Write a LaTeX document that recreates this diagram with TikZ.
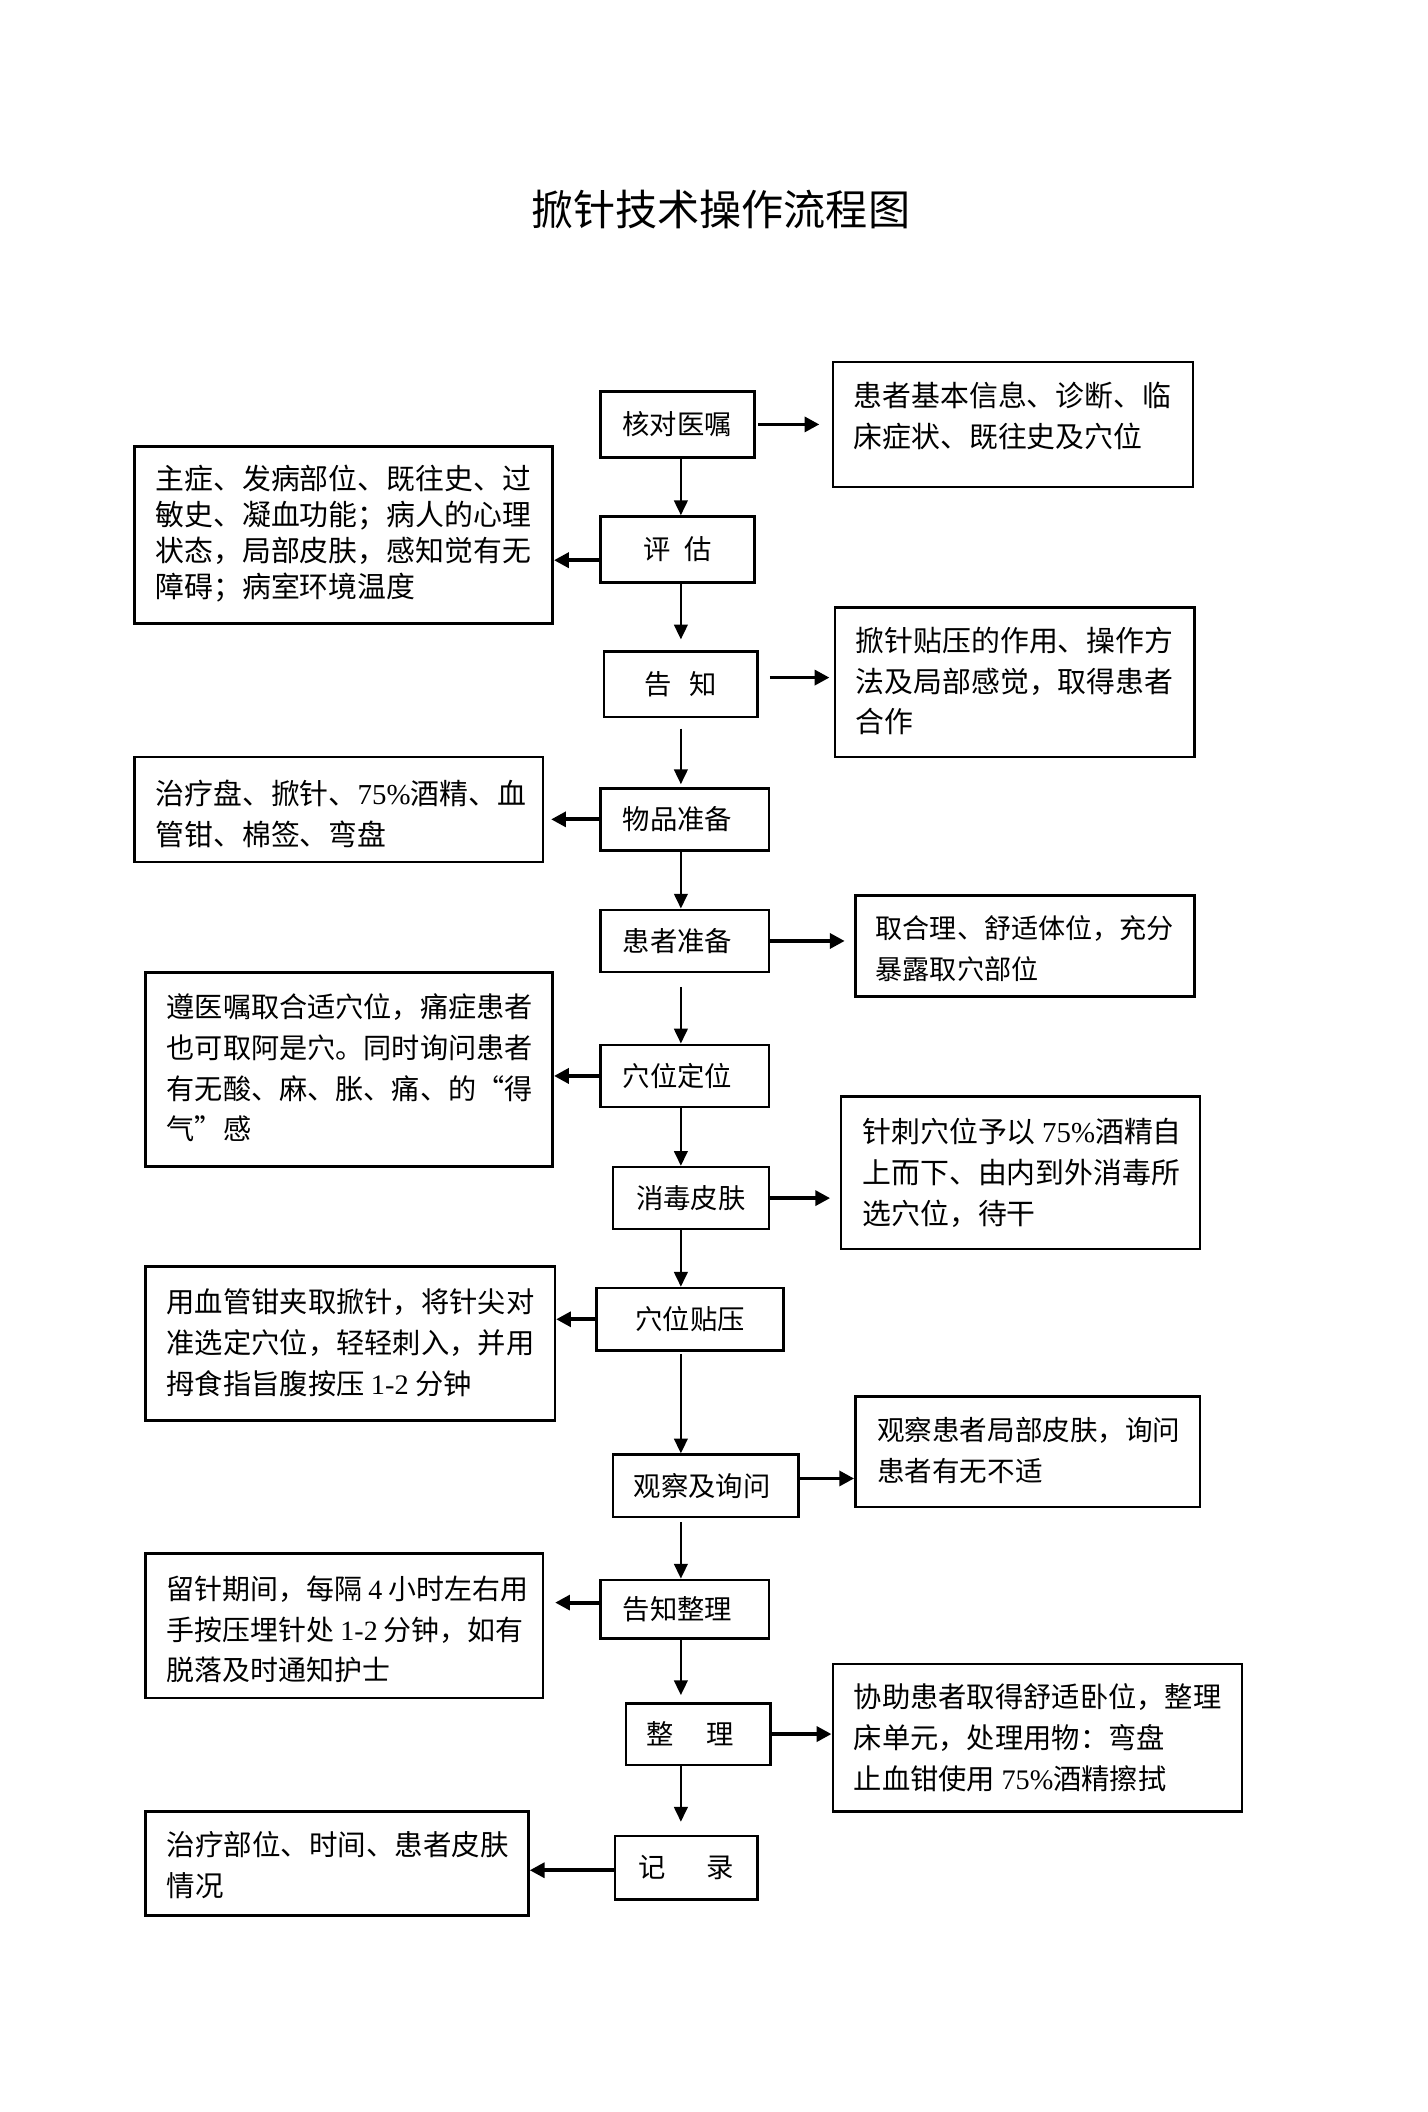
\documentclass[tikz,border=0pt]{standalone}
\usepackage{fontspec}
\newfontfamily\cjk{Noto Sans CJK SC}
\newfontfamily\lat{Liberation Serif}
\usetikzlibrary{arrows.meta,fit}
\newcommand\tstr{\rule{0pt}{1em}}
\tikzset{
  mbox/.style 2 args={draw, line width=1.1pt, inner sep=0pt, minimum width=#1*0.02cm, minimum height=#2*0.02cm, font=\cjk\fontsize{11.55pt}{14pt}\selectfont},
  sbox/.style={draw, line width=1.1pt, inner sep=0pt},
  stext/.style={anchor=north west, inner sep=0pt, align=left, font=\cjk\fontsize{#1}{17.24pt}\selectfont},
  stext/.default=12.2pt,
  stextb/.style={anchor=north west, inner sep=0pt, align=left, font=\cjk\fontsize{12.2pt}{15.25pt}\selectfont},
  varrow/.style={line width=1.1pt, -{Triangle[length=0.22cm,width=0.2cm]}},
  harrow/.style={line width=1.6pt, -{Triangle[length=0.22cm,width=0.22cm]}},
}
\begin{document}
\begin{tikzpicture}[x=0.02cm,y=-0.02cm]
\fill[white] (0,0) rectangle (1060,1568);
\useasboundingbox (0,0) rectangle (1060,1568);

\node[font=\cjk\fontsize{17.8pt}{20pt}\selectfont] (title) at (535,155.5) {掀针技术操作流程图};

\coordinate (spine) at (505.5,0);

% main flow boxes
\node[mbox={114.3}{48.8}] (m1) at (502.85,315.1) {核对医嘱};
\node[mbox={114.3}{48.8}] (m2) at (502.85,407.9) {评\hspace{0.5em}估};
\node[mbox={114.2}{48.7}] (m3) at (505.5,508.05) {告\hspace{0.65em}知};
\node[mbox={125.1}{46.2}] (m4) at (508.25,608.3) {物品准备\hspace*{0.21cm}};
\node[mbox={125.1}{46.2}] (m5) at (508.25,698.6) {患者准备\hspace*{0.21cm}};
\node[mbox={125.1}{46.2}] (m6) at (508.25,798.8) {穴位定位\hspace*{0.21cm}};
\node[mbox={115.8}{46}] (m7) at (512.9,889.5) {消毒皮肤};
\node[mbox={138.8}{46.3}] (m8) at (512.3,979.45) {穴位贴压};
\node[mbox={137.6}{46.3}] (m9) at (523.8,1103.15) {观察及询问\hspace*{0.1cm}};
\node[mbox={125.1}{43.6}] (m10) at (508.25,1194.8) {告知整理\hspace*{0.21cm}};
\node[mbox={107.2}{45.8}] (m11) at (518.3,1287.4) {整\hspace{1.2em}理\hspace*{0.24cm}};
\node[mbox={106.1}{47}] (m12) at (509.55,1386.5) {记\hspace{1.5em}录};

% side boxes
\node[sbox, fit={(618.3,268.9) (885.6,361.7)}] (s1) {};
\node[sbox, fit={(100,331.6) (410.3,462.7)}] (s2) {};
\node[sbox, fit={(619.8,450.8) (886.6,562.1)}] (s3) {};
\node[sbox, fit={(100,562.1) (403.2,640.1)}] (s4) {};
\node[sbox, fit={(635.1,664.8) (886.6,739.8)}] (s5) {};
\node[sbox, fit={(108.2,722) (410.3,866)}] (s6) {};
\node[sbox, fit={(624.3,814) (891,927.4)}] (s7) {};
\node[sbox, fit={(108.2,940.2) (411.9,1054.8)}] (s8) {};
\node[sbox, fit={(635.1,1036.7) (891,1118.8)}] (s9) {};
\node[sbox, fit={(108.2,1153.5) (403.2,1260.6)}] (s10) {};
\node[sbox, fit={(618.3,1235.4) (922,1344.8)}] (s11) {};
\node[sbox, fit={(108.2,1344.8) (392.3,1422)}] (s12) {};

% side texts
\node[stext] (t1) at (633.5,280) {\tstr 患者基本信息、诊断、临\\床症状、既往史及穴位};
\node[stextb] (t2) at (115.2,341.6) {\tstr 主症、发病部位、既往史、过\\敏史、凝血功能；病人的心理\\状态，局部皮肤，感知觉有无\\障碍；病室环境温度};
\node[stext] (t3) at (635,461.7) {\tstr 掀针贴压的作用、操作方\\法及局部感觉，取得患者\\合作};
\node[stext] (t4) at (115.2,575.6) {\tstr 治疗盘、掀针、{\lat 75\%}酒精、血\\管钳、棉签、弯盘};
\node[stext=11.45pt] (t5) at (649.8,676.5) {\tstr 取合理、舒适体位，充分\\暴露取穴部位};
\node[stext=11.9pt] (t6) at (123.4,734.2) {\tstr 遵医嘱取合适穴位，痛症患者\\也可取阿是穴。同时询问患者\\有无酸、麻、胀、痛、的“得\\气”感};
\node[stext] (t7) at (640,826.7) {\tstr 针刺穴位予以 {\lat 75\%}酒精自\\上而下、由内到外消毒所\\选穴位，待干};
\node[stext=11.95pt] (t8) at (123.4,953.2) {\tstr 用血管钳夹取掀针，将针尖对\\准选定穴位，轻轻刺入，并用\\拇食指旨腹按压 {\lat 1-2} 分钟};
\node[stext=11.65pt] (t9) at (650.9,1048.8) {\tstr 观察患者局部皮肤，询问\\患者有无不适};
\node[stext=11.8pt] (t10) at (123.4,1166.2) {\tstr 留针期间，每隔 {\lat 4} 小时左右用\\手按压埋针处 {\lat 1-2} 分钟，如有\\脱落及时通知护士};
\node[stext=11.95pt] (t11) at (633.5,1246.4) {\tstr 协助患者取得舒适卧位，整理\\床单元，处理用物：弯盘\\止血钳使用 {\lat 75\%}酒精擦拭};
\node[stext=12.05pt] (t12) at (123.4,1356.3) {\tstr 治疗部位、时间、患者皮肤\\情况};

% vertical arrows
\draw[varrow] (m1.south -| spine) -- (m2.north -| spine);
\draw[varrow, shorten >=0.16cm] (m2.south -| spine) -- (m3.north -| spine);
\draw[varrow, shorten <=0.15cm, shorten >=0.04cm] (m3.south -| spine) -- (m4.north -| spine);
\draw[varrow] (m4.south -| spine) -- (m5.north -| spine);
\draw[varrow, shorten <=0.2cm] (m5.south -| spine) -- (m6.north -| spine);
\draw[varrow] (m6.south -| spine) -- (m7.north -| spine);
\draw[varrow] (m7.south -| spine) -- (m8.north -| spine);
\draw[varrow, shorten <=0.04cm] (m8.south -| spine) -- (m9.north -| spine);
\draw[varrow, shorten <=0.06cm] (m9.south -| spine) -- (m10.north -| spine);
\draw[varrow, shorten >=0.1cm] (m10.south -| spine) -- (m11.north -| spine);
\draw[varrow, shorten >=0.19cm] (m11.south -| spine) -- (m12.north -| spine);

% horizontal arrows
\draw[harrow, shorten <=0.04cm, shorten >=0.18cm] (m1.east) -- (m1.east -| s1.west);
\draw[harrow] ([yshift=-0.16cm]m2.west) -- ([yshift=-0.16cm]m2.west -| s2.east);
\draw[harrow, shorten <=0.16cm, shorten >=0.06cm] ([yshift=0.1cm]m3.east) -- ([yshift=0.1cm]m3.east -| s3.west);
\draw[harrow, shorten >=0.1cm] (m4.west) -- (m4.west -| s4.east);
\draw[harrow, shorten >=0.14cm] (m5.east) -- (m5.east -| s5.west);
\draw[harrow] (m6.west) -- (m6.west -| s6.east);
\draw[harrow, shorten >=0.14cm] (m7.east) -- (m7.east -| s7.west);
\draw[harrow] (m8.west) -- (m8.west -| s8.east);
\draw[harrow] ([yshift=0.11cm]m9.east) -- ([yshift=0.11cm]m9.east -| s9.west);
\draw[harrow, shorten >=0.16cm] ([yshift=0.1cm]m10.west) -- ([yshift=0.1cm]m10.west -| s10.east);
\draw[harrow] (m11.east) -- (m11.east -| s11.west);
\draw[harrow] ([yshift=-0.04cm]m12.west) -- ([yshift=-0.04cm]m12.west -| s12.east);
\end{tikzpicture}
\end{document}
